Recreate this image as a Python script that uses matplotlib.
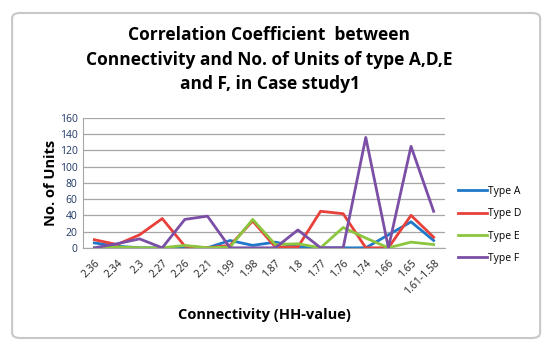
import matplotlib
matplotlib.use("Agg")
import matplotlib.pyplot as plt
from matplotlib.patches import FancyBboxPatch

# Category labels (HH-value) and unit counts per type
categories = ["2.36", "2.34", "2.3", "2.27", "2.26", "2.21", "1.99", "1.98",
              "1.87", "1.8", "1.77", "1.76", "1.74", "1.66", "1.65", "1.61-1.58"]
type_a = [6, 2, 0, 0, 0, 0, 9, 3, 7, 1, 0, 0, 0, 16, 32, 9]
type_d = [10, 4, 16, 36, 2, 0, 3, 33, 1, 1, 45, 42, 0, 0, 40, 13]
type_e = [0, 1, 0, 0, 3, 0, 1, 35, 4, 5, 0, 25, 12, 0, 7, 4]
type_f = [0, 5, 11, 0, 35, 39, 0, 0, 0, 22, 0, 0, 136, 0, 125, 45]

series = [("Type A", type_a, "#1f78c8"),
          ("Type D", type_d, "#e8403a"),
          ("Type E", type_e, "#8cc63e"),
          ("Type F", type_f, "#7b4fa6")]

plt.rcParams['font.family'] = ['Open Sans', 'DejaVu Sans']

fig = plt.figure(figsize=(5.5, 3.51), dpi=100)

# Excel-like chart frame, drawn behind everything
frame = FancyBboxPatch((0.022, 0.037), 0.96, 0.926,
                       boxstyle="round,pad=0,rounding_size=0.015",
                       transform=fig.transFigure, facecolor="white",
                       edgecolor="#c8c8c8", linewidth=1.5, zorder=-10)
fig.patches.append(frame)

ax = fig.add_axes([0.151, 0.294, 0.658, 0.370])
ax.patch.set_alpha(0)
x = list(range(len(categories)))
for name, vals, col in series:
    ax.plot(x, vals, color=col, linewidth=2.0, label=name)

ax.set_xlim(-0.5, len(categories) - 0.5)
ax.set_ylim(0, 160)
ax.set_yticks(range(0, 161, 20))
ax.yaxis.grid(True, color="#a6a6a6", linewidth=0.9)
ax.set_axisbelow(True)
for s in ["top", "right"]:
    ax.spines[s].set_visible(False)
ax.spines["left"].set_color("#a6a6a6")
ax.spines["bottom"].set_color("#a6a6a6")
ax.tick_params(axis="y", length=0, labelsize=7.5, labelcolor="#1f3864", pad=4)
ax.tick_params(axis="x", length=0, labelsize=7.5, labelcolor="#1f1f1f", pad=7)
ax.set_xticks(x)
ax.set_xticklabels(categories, rotation=45, ha="right", rotation_mode="anchor")

ax.set_ylabel("No. of Units", fontsize=10.5, fontweight="bold", labelpad=1)
ax.set_xlabel("Connectivity (HH-value)", fontsize=10.5, fontweight="bold", labelpad=8)

fig.text(0.49, 0.925, "Correlation Coefficient  between\nConnectivity and No. of Units of type A,D,E\nand F, in Case study1",
         ha="center", va="top", fontsize=12.5, fontweight="bold", linespacing=1.45)

ax.legend(loc="upper left", bbox_to_anchor=(1.01, 0.55), frameon=False,
          fontsize=7.5, handlelength=2.8, handletextpad=0.1, labelspacing=1.1)

fig.savefig("out.png", dpi=100)
